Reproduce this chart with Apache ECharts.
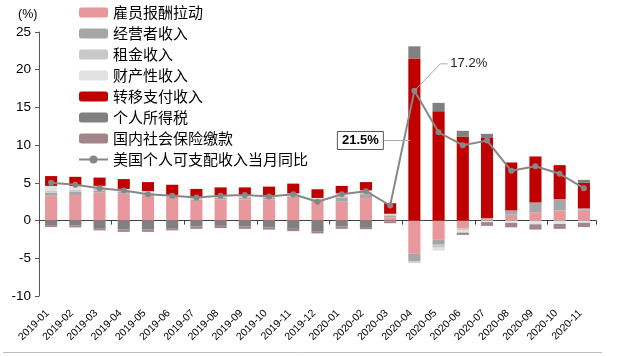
<!DOCTYPE html>
<html>
<head>
<meta charset="utf-8">
<script src="https://cdn.jsdelivr.net/npm/echarts@6/dist/echarts.min.js"></script>
<style>
html,body{margin:0;padding:0;background:#fff;}
#chart{width:617px;height:356px;}
</style>
</head>
<body>
<div id="chart"></div>
<script>
const categories = ['2019-01','2019-02','2019-03','2019-04','2019-05','2019-06','2019-07','2019-08','2019-09','2019-10','2019-11','2019-12',
  '2020-01','2020-02','2020-03','2020-04','2020-05','2020-06','2020-07','2020-08','2020-09','2020-10','2020-11'];
const employeeComp = [3.3,3.4,3.7,3.6,3.3,3.0,2.6,2.8,2.8,2.8,3.0,2.5, 2.5,3.0,0.4,-4.4,-2.55,-1.0,0.2,0.8,1.1,1.35,1.3];
const proprietorIncome = [0.4,0.4,0.3,0.2,0.2,0.2,0.2,0.2,0.2,0.2,0.2,0.2, 0.5,0.5,0.2,-1.0,-0.65,0,0,0.55,1.3,1.5,0.2];
const rentalIncome = [0.3,0.3,0.3,0.2,0.2,0.1,0.2,0.2,0.2,0.2,0.2,0.2, 0.3,0.3,0.2,-0.2,-0.4,-0.3,0.1,0,0,0,0.1];
const assetIncome = [0.6,0.5,0.3,0.2,0.2,0.1,0.1,0.1,0.2,0.1,0.2,0.1, 0.3,0.2,0.1,0,-0.4,-0.3,-0.2,-0.3,-0.5,-0.45,-0.3];
const transferIncome = [1.3,1.2,1.1,1.3,1.2,1.35,1.1,1.1,1.0,1.2,1.3,1.15, 1.0,1.1,1.4,21.5,14.5,11.1,10.65,6.35,6.1,4.5,3.4];
const incomeTax = [-0.6,-0.65,-1.0,-1.2,-1.2,-1.0,-0.8,-0.7,-0.8,-0.9,-1.1,-1.4, -0.8,-0.85,-0.1,1.6,1.1,0.8,0.55,0,0,0,0.4];
const socialInsurance = [-0.25,-0.25,-0.3,-0.3,-0.3,-0.3,-0.3,-0.3,-0.3,-0.3,-0.3,-0.3, -0.3,-0.3,-0.25,0,0,-0.3,-0.5,-0.6,-0.7,-0.65,-0.55];
const disposableYoY = [5.0,4.75,4.3,4.0,3.5,3.3,3.05,3.3,3.4,3.2,3.5,2.5, 3.5,3.9,2.0,17.2,11.7,10.0,10.6,6.6,7.2,6.2,4.3];
const yTicks = {min:-10, max:25, interval:5};

const barSeries = [
  ['雇员报酬拉动', employeeComp, '#E8979C'],
  ['经营者收入', proprietorIncome, '#A6A6A6'],
  ['租金收入', rentalIncome, '#C8C8C8'],
  ['财产性收入', assetIncome, '#E2E2E2'],
  ['转移支付收入', transferIncome, '#C00000'],
  ['个人所得税', incomeTax, '#808080'],
  ['国内社会保险缴款', socialInsurance, '#A3848A']
];
const lineName = '美国个人可支配收入当月同比';

const chart = echarts.init(document.getElementById('chart'));
const series = barSeries.map(([name, data, color]) => ({
  name, type:'bar', stack:'total', data, barWidth:'50%',
  itemStyle:{color}, xAxisIndex:0, yAxisIndex:0
}));
series.push({
  name: lineName, type:'line', data: disposableYoY, xAxisIndex:0, yAxisIndex:0,
  symbol:'circle', symbolSize:6, z:5,
  itemStyle:{color:'#878787'}, lineStyle:{color:'#878787', width:2}
});

chart.setOption({
  animation:false,
  textStyle:{fontFamily:'Liberation Sans, Arial, sans-serif'},
  title:{text:'(%)', left:13, top:3, textStyle:{fontSize:12.5, fontWeight:'normal', color:'#000', fontFamily:'Liberation Sans, Arial'}},
  grid:{left:39, right:21, top:32, bottom:60, containLabel:false},
  legend:{
    orient:'vertical', left:78, top:5, itemWidth:29, itemHeight:10, itemGap:6,
    data:[...barSeries.map(s=>s[0]), lineName],
    textStyle:{fontSize:15, lineHeight:15, color:'#000', fontFamily:'Noto Sans CJK SC'},
    padding:0
  },
  xAxis:[
    {type:'category', data:categories, position:'bottom',
     axisLine:{onZero:true, lineStyle:{color:'#404040', width:1}},
     axisTick:{show:true, alignWithLabel:false, length:4, lineStyle:{color:'#404040'}},
     axisLabel:{show:false}, splitLine:{show:false}},
    {type:'category', data:categories, position:'bottom',
     axisLine:{show:false, onZero:false}, axisTick:{show:false},
     axisLabel:{show:true, rotate:45, interval:0, fontSize:10.5, margin:12, padding:[0,5,0,0], color:'#000'},
     splitLine:{show:false}}
  ],
  yAxis:{type:'value', min:yTicks.min, max:yTicks.max, interval:yTicks.interval,
    axisLine:{show:true, lineStyle:{color:'#595959'}},
    axisTick:{show:true, length:4, lineStyle:{color:'#595959'}},
    axisLabel:{fontSize:13.5, color:'#000', margin:8},
    splitLine:{show:false}},
  series
});

// annotations anchored to data through the chart's own coordinate system
const idx = 15;
const pLine = chart.convertToPixel({xAxisIndex:0, yAxisIndex:0}, [categories[idx], disposableYoY[idx]]);
const pBar = chart.convertToPixel({xAxisIndex:0, yAxisIndex:0}, [categories[idx], transferIncome[idx]/2]);
const boxW = 46, boxH = 18;
const boxRight = pBar[0] - 31;
chart.setOption({
  graphic:[
    {type:'polyline', shape:{points:[[pLine[0]+1, pLine[1]-1],[pLine[0]+26, pLine[1]-27],[pLine[0]+33, pLine[1]-27]]},
     style:{stroke:'#A6A6A6', lineWidth:1, fill:null}, z:10},
    {type:'text', x:pLine[0]+36, y:pLine[1]-27,
     style:{text: disposableYoY[idx].toFixed(1)+'%', font:'13px Liberation Sans', fill:'#222', verticalAlign:'middle', align:'left'}, z:10},
    {type:'line', shape:{x1:boxRight, y1:pBar[1]+1, x2:pBar[0]-4, y2:pBar[1]+1},
     style:{stroke:'#A6A6A6', lineWidth:1}, z:10},
    {type:'rect', shape:{x:boxRight-boxW, y:pBar[1]+1-boxH/2, width:boxW, height:boxH},
     style:{fill:'#fff', stroke:'#595959', lineWidth:1}, z:10},
    {type:'text', x:boxRight-boxW/2, y:pBar[1]+1,
     style:{text: transferIncome[idx].toFixed(1)+'%', font:'bold 13px Liberation Sans', fill:'#000', align:'center', verticalAlign:'middle'}, z:11},
    {type:'line', shape:{x1:3, y1:352.5, x2:602, y2:352.5}, style:{stroke:'#BFBFBF', lineWidth:1}, z:1}
  ]
});
</script>
</body>
</html>
